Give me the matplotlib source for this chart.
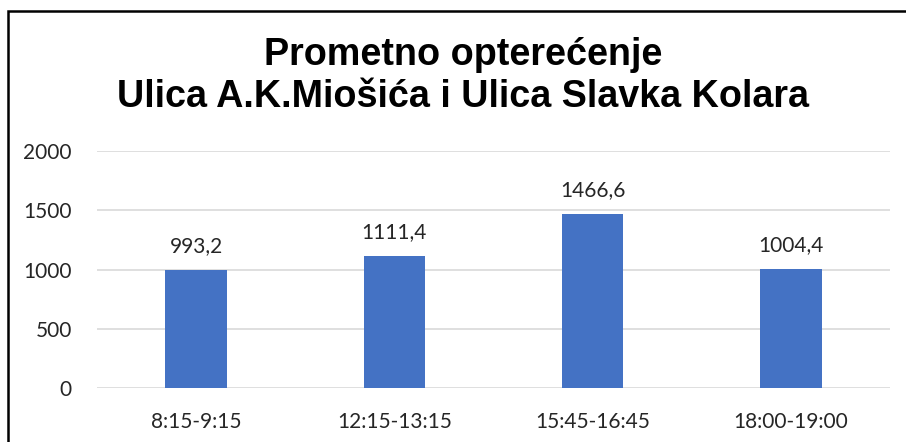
import matplotlib.pyplot as plt
import matplotlib.patches as patches

periods = ["8:15-9:15", "12:15-13:15", "15:45-16:45", "18:00-19:00"]
traffic = [993.2, 1111.4, 1466.6, 1004.4]
yticks = [0, 500, 1000, 1500, 2000]

fig = plt.figure(figsize=(9.06, 4.42), dpi=100)
ax = fig.add_axes([97 / 906, 1 - 388 / 442, 793 / 906, 237 / 442])

x = range(len(periods))
ax.bar(x, traffic, width=0.31, color="#4472C4", zorder=3)
for xi, v in zip(x, traffic):
    ax.annotate(f"{v:.1f}".replace(".", ","), (xi, v), xytext=(0, 10),
                textcoords="offset points", ha="center", va="bottom",
                fontsize=15, family="Lato", color="#262626")

ax.set_xlim(-0.5, len(periods) - 0.5)
ax.set_ylim(0, 2000)
ax.set_yticks(yticks)
ax.set_xticks(list(x))
ax.set_xticklabels(periods)
ax.grid(axis="y", color="#d9d9d9", linewidth=1.2, zorder=0)
for s in ax.spines.values():
    s.set_visible(False)
ax.tick_params(length=0, labelsize=15, labelcolor="#262626")
ax.tick_params(axis="x", pad=17)
ax.tick_params(axis="y", pad=18)
for lab in ax.get_xticklabels() + ax.get_yticklabels():
    lab.set_family("Lato")

fig.text(0.511, 1 - 76 / 442, "Prometno opterećenje\nUlica A.K.Miošića i Ulica Slavka Kolara",
         ha="center", va="center", fontsize=27.2, fontweight="bold",
         family="Liberation Sans", linespacing=1.2)

fig.patches.append(patches.Rectangle((8 / 906, -0.1), 1.2, 1.1 - 11 / 442,
                                     transform=fig.transFigure, fill=False,
                                     edgecolor="black", linewidth=1.8))

fig.savefig("out.png", dpi=100)
